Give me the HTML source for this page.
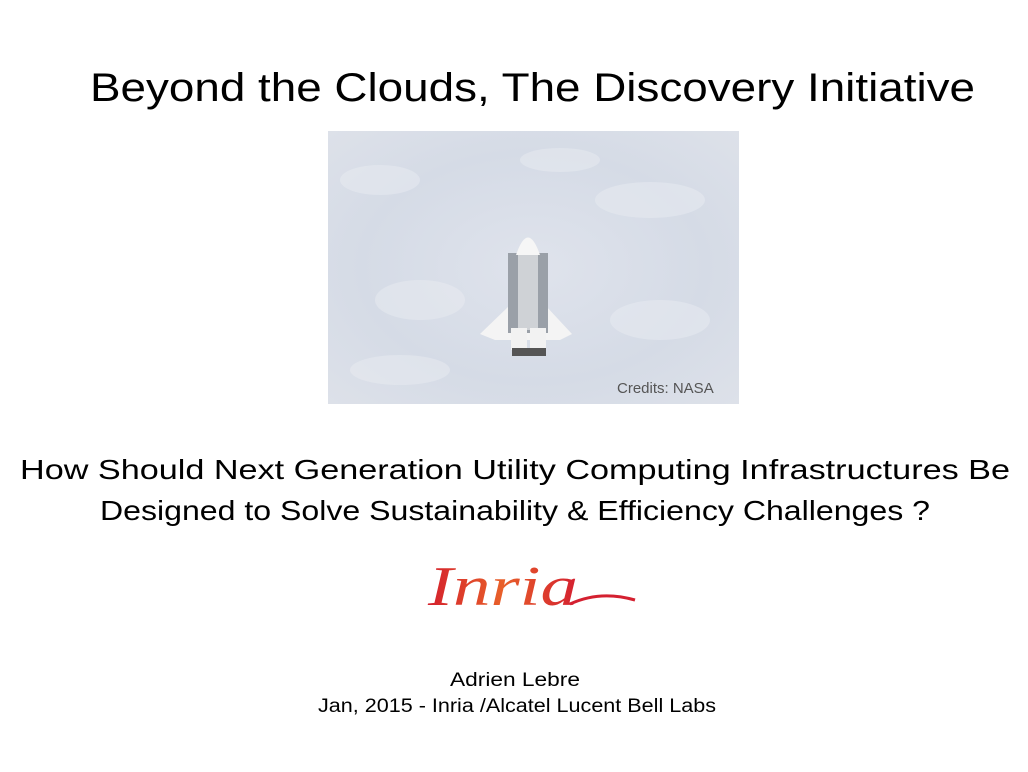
<!DOCTYPE html>
<html><head><meta charset="utf-8"><style>
html,body{margin:0;padding:0;background:#fff;}
svg{display:block}
text{font-family:"Liberation Sans",sans-serif;fill:#000}
</style></head><body>
<svg width="1028" height="772" viewBox="0 0 1028 772" xmlns="http://www.w3.org/2000/svg">
<defs>
<radialGradient id="cl" cx="50%" cy="50%" r="70%">
<stop offset="0" stop-color="#dfe3ec"/><stop offset="0.6" stop-color="#d5dbe6"/><stop offset="1" stop-color="#dde1e9"/>
</radialGradient>
<linearGradient id="lg" x1="0" x2="1" y1="0" y2="0">
<stop offset="0" stop-color="#d4202c"/><stop offset="0.5" stop-color="#e8602a"/><stop offset="1" stop-color="#d42030"/>
</linearGradient>
</defs>
<text x="90" y="101" font-size="40" textLength="885" lengthAdjust="spacingAndGlyphs">Beyond the Clouds, The Discovery Initiative</text>
<rect x="328" y="131" width="411" height="273" fill="url(#cl)"/>
<g fill="#eef0f4" opacity="0.4">
<ellipse cx="380" cy="180" rx="40" ry="15"/><ellipse cx="650" cy="200" rx="55" ry="18"/>
<ellipse cx="420" cy="300" rx="45" ry="20"/><ellipse cx="660" cy="320" rx="50" ry="20"/>
<ellipse cx="560" cy="160" rx="40" ry="12"/><ellipse cx="400" cy="370" rx="50" ry="15"/>
</g>
<g>
<polygon points="480,334 510,305 545,305 572,334 560,340 495,340" fill="#f4f4f4"/>
<rect x="508" y="253" width="40" height="80" fill="#9aa0a8"/>
<rect x="518" y="255" width="20" height="75" fill="#cfd2d6"/>
<path d="M516,255 Q528,220 540,255 Z" fill="#f6f6f6"/>
<rect x="511" y="328" width="16" height="22" fill="#f2f2f2"/>
<rect x="530" y="328" width="16" height="22" fill="#f2f2f2"/>
<rect x="512" y="348" width="34" height="8" fill="#555"/>
</g>
<text x="617" y="393" font-size="15" style="fill:#555">Credits: NASA</text>
<text x="20" y="479" font-size="28" textLength="990" lengthAdjust="spacingAndGlyphs">How Should Next Generation Utility Computing Infrastructures Be</text>
<text x="100" y="520" font-size="28" textLength="830" lengthAdjust="spacingAndGlyphs">Designed to Solve Sustainability &amp; Efficiency Challenges ?</text>
<text x="428" y="605" font-size="56" font-style="italic" style="fill:url(#lg);font-family:'Liberation Serif',serif" textLength="150" lengthAdjust="spacingAndGlyphs">Inria</text>
<path d="M570,604 Q600,590 635,600" stroke="#d42030" stroke-width="3" fill="none"/>
<text x="450" y="686" font-size="19" textLength="130" lengthAdjust="spacingAndGlyphs">Adrien Lebre</text>
<text x="318" y="712" font-size="19" textLength="398" lengthAdjust="spacingAndGlyphs">Jan, 2015 - Inria /Alcatel Lucent Bell Labs</text>
</svg>
</body></html>
